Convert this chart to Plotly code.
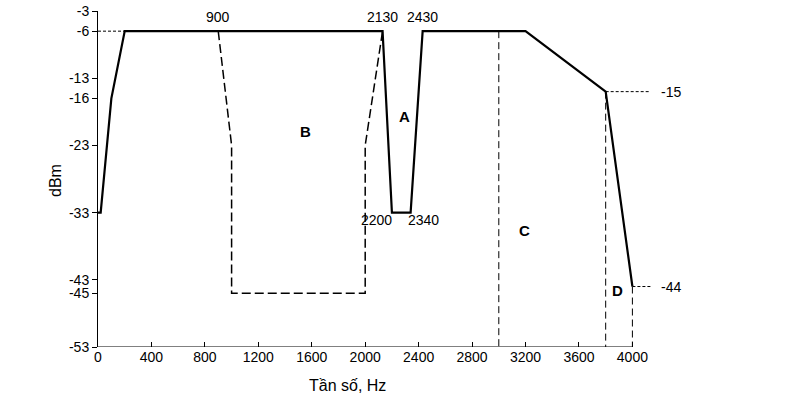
import plotly.graph_objects as go

# ---- data ----
mask_x = [0, 20, 100, 200, 2130, 2200, 2340, 2430, 3200, 3800, 4000]
mask_y = [-33, -33, -16, -6, -6, -33, -33, -6, -6, -15, -44]

b_x = [900, 1000, 1000, 2000, 2000, 2130]
b_y = [-6, -23, -45, -45, -23, -6]

c_x = [3000, 3000]
c_y = [-6, -53]
d1_x = [3800, 3800]
d1_y = [-15, -53]
d2_x = [4000, 4000]
d2_y = [-44, -53]

ref6_x = [0, 200]
ref6_y = [-6, -6]
ref15_x = [3800, 4125]
ref15_y = [-15, -15]
ref44_x = [4000, 4145]
ref44_y = [-44, -44]

x_ticks = [0, 400, 800, 1200, 1600, 2000, 2400, 2800, 3200, 3600, 4000]
y_ticks = [-3, -6, -13, -16, -23, -33, -43, -45, -53]

freq_labels = [("900", 900, -6), ("2130", 2130, -6), ("2430", 2430, -6)]
region_labels = [("A", 2291, -18.7), ("B", 1551, -20.9), ("C", 3194, -35.7), ("D", 3892, -44.6)]
level_labels = [("-15", 4286, -15), ("-44", 4286, -44)]

FONT = "Liberation Sans, Arial, sans-serif"
NUM = 14

fig = go.Figure()
fig.add_trace(go.Scatter(x=ref6_x, y=ref6_y, mode="lines",
                         line=dict(color="black", width=1, dash="3px,2px")))
fig.add_trace(go.Scatter(x=ref15_x, y=ref15_y, mode="lines",
                         line=dict(color="black", width=1, dash="3px,2px")))
fig.add_trace(go.Scatter(x=ref44_x, y=ref44_y, mode="lines",
                         line=dict(color="black", width=1, dash="3px,2px")))
fig.add_trace(go.Scatter(x=b_x, y=b_y, mode="lines",
                         line=dict(color="black", width=1.5, dash="9px,4px")))
for xs, ys in [(c_x, c_y), (d1_x, d1_y), (d2_x, d2_y)]:
    fig.add_trace(go.Scatter(x=xs, y=ys, mode="lines",
                             line=dict(color="black", width=1, dash="7px,4px")))
fig.add_trace(go.Scatter(x=mask_x, y=mask_y, mode="lines",
                         line=dict(color="black", width=2.2)))

ann = []
for t, x, y in freq_labels:
    ann.append(dict(x=x, y=y, xref="x", yref="y", text=t, showarrow=False,
                    yshift=14, font=dict(size=NUM, color="black", family=FONT)))
ann.append(dict(x=2200, y=-33, xref="x", yref="y", text="2200", showarrow=False,
                xanchor="right", xshift=2, yshift=-7,
                font=dict(size=NUM, color="black", family=FONT)))
ann.append(dict(x=2340, y=-33, xref="x", yref="y", text="2340", showarrow=False,
                xanchor="left", xshift=-5, yshift=-7,
                font=dict(size=NUM, color="black", family=FONT)))
for t, x, y in region_labels:
    ann.append(dict(x=x, y=y, xref="x", yref="y", text="<b>" + t + "</b>", showarrow=False,
                    font=dict(size=15, color="black", family=FONT)))
for t, x, y in level_labels:
    ann.append(dict(x=x, y=y, xref="x", yref="y", text=t, showarrow=False,
                    font=dict(size=NUM, color="black", family=FONT)))
ann.append(dict(x=(347.5 - 98) / 668, y=(347 - 385) / 336, xref="paper", yref="paper",
                text="Tần số, Hz", showarrow=False, xanchor="center", yanchor="middle",
                font=dict(size=16, color="black", family=FONT)))
ann.append(dict(x=(55 - 98) / 668, y=(347 - 181) / 336, xref="paper", yref="paper",
                text="dBm", showarrow=False, textangle=-90, xanchor="center", yanchor="middle",
                font=dict(size=16, color="black", family=FONT)))

# x axis baseline (0..4000)
fig.add_shape(type="line", x0=x_ticks[0], x1=x_ticks[-1], y0=y_ticks[-1], y1=y_ticks[-1],
              xref="x", yref="y", line=dict(color="black", width=1))

fig.update_layout(
    width=786, height=399,
    margin=dict(l=98, r=20, t=11, b=52),
    paper_bgcolor="white", plot_bgcolor="white",
    showlegend=False,
    annotations=ann,
    font=dict(family=FONT, size=NUM, color="black"),
    xaxis=dict(range=[0, 5000], tickvals=x_ticks, ticktext=[str(v) for v in x_ticks],
               showgrid=False, zeroline=False, showline=False, automargin=False,
               ticks="inside", ticklen=5, tickcolor="black", tickwidth=1,
               tickfont=dict(size=NUM, family=FONT, color="black")),
    yaxis=dict(range=[-53, -3], tickvals=y_ticks, ticktext=[str(v) for v in y_ticks],
               showgrid=False, zeroline=False, showline=True, linecolor="black", linewidth=1,
               automargin=False,
               ticks="outside", ticklen=5, tickcolor="black", tickwidth=1,
               tickfont=dict(size=NUM, family=FONT, color="black")),
)

fig.write_html("out.html", config={"displayModeBar": False},
               post_script="document.body.style.margin='0px';document.body.style.overflow='hidden';")
